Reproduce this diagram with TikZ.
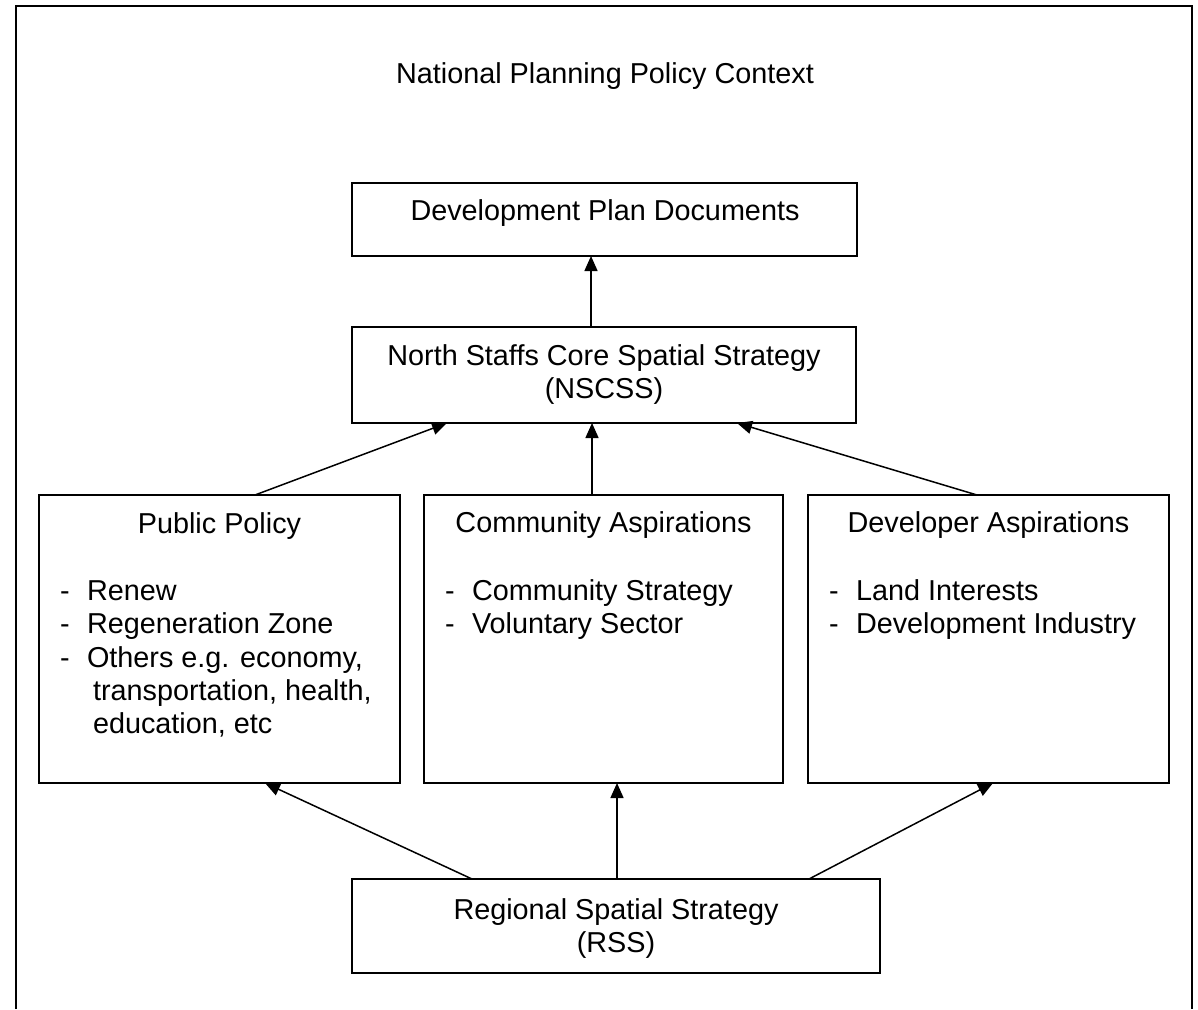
\documentclass[tikz,border=0pt]{standalone}
\usepackage{fontspec}
\setmainfont{Liberation Sans}
\usetikzlibrary{arrows.meta,calc}
\begin{document}
\begin{tikzpicture}[x=1pt,y=-1pt,
  box/.style={draw,line width=1.5pt,inner sep=0pt,outer sep=0pt},
  txt/.style={inner sep=0pt,outer sep=0pt,font=\fontsize{28.8}{33.3}\selectfont},
  arr/.style={-{Triangle[length=15pt,width=13pt]},line width=1.5pt},
  frame/.style={line width=2.5pt}]
\useasboundingbox (0,0) rectangle (1198,1009);
% outer frame (open at the bottom)
\draw[frame] (16,1009) -- (16,6) -- (1192,6) -- (1192,1009);
\node[txt,anchor=base] (title) at (605,83) {National Planning Policy Context};
% boxes
\node[box,minimum width=505pt,minimum height=73pt] (dpd) at (604.5,219.5) {};
\node[box,minimum width=504pt,minimum height=96pt] (nscss) at (604,375) {};
\node[box,minimum width=361pt,minimum height=288pt] (pp) at (219.5,639) {};
\node[box,minimum width=359pt,minimum height=288pt] (ca) at (603.5,639) {};
\node[box,minimum width=361pt,minimum height=288pt] (da) at (988.5,639) {};
\node[box,minimum width=528pt,minimum height=94pt] (rss) at (616,926) {};
% texts
\node[txt,anchor=base] (dpdt) at (605,220) {Development Plan Documents};
\node[txt,anchor=base] (nscsst1) at (604,365) {North Staffs Core Spatial Strategy};
\node[txt,anchor=base] (nscsst2) at (604,398) {(NSCSS)};
\node[txt,anchor=base] (ppt) at (219.5,533) {Public Policy};
\node[txt,anchor=base west] (pp1d) at (60,600) {-};
\node[txt,anchor=base west] (pp1) at (87,600) {Renew};
\node[txt,anchor=base west] (pp2d) at (60,633) {-};
\node[txt,anchor=base west] (pp2) at (87,633) {Regeneration Zone};
\node[txt,anchor=base west] (pp3d) at (60,667) {-};
\node[txt,anchor=base west] (pp3) at (87,667) {Others e.g. economy,};
\node[txt,anchor=base west] (pp4) at (93,700) {transportation, health,};
\node[txt,anchor=base west] (pp5) at (93,733) {education, etc};
\node[txt,anchor=base] (cat) at (603.5,532) {Community Aspirations};
\node[txt,anchor=base west] (ca1d) at (445,600) {-};
\node[txt,anchor=base west] (ca1) at (472,600) {Community Strategy};
\node[txt,anchor=base west] (ca2d) at (445,633) {-};
\node[txt,anchor=base west] (ca2) at (472,633) {Voluntary Sector};
\node[txt,anchor=base] (dat) at (988.5,532) {Developer Aspirations};
\node[txt,anchor=base west] (da1d) at (829,600) {-};
\node[txt,anchor=base west] (da1) at (856,600) {Land Interests};
\node[txt,anchor=base west] (da2d) at (829,633) {-};
\node[txt,anchor=base west] (da2) at (856,633) {Development Industry};
\node[txt,anchor=base] (rsst1) at (616,919) {Regional Spatial Strategy};
\node[txt,anchor=base] (rsst2) at (616,952) {(RSS)};
% connectors
\draw[arr] ($(nscss.north west)+(239,0)$) -- ($(dpd.south west)+(239,0)$);
\draw[arr] ($(pp.north west)+(216,0)$) -- ($(nscss.south west)+(95,0)$);
\draw[arr] ($(ca.north west)+(168,0)$) -- ($(nscss.south west)+(240,0)$);
\draw[arr] ($(da.north west)+(169,0)$) -- ($(nscss.south west)+(385,0)$);
\draw[arr] ($(rss.north west)+(120,0)$) -- ($(pp.south west)+(226,0)$);
\draw[arr] ($(rss.north west)+(265,0)$) -- ($(ca.south west)+(193,0)$);
\draw[arr] ($(rss.north west)+(457,0)$) -- ($(da.south west)+(185,0)$);
\end{tikzpicture}
\end{document}
